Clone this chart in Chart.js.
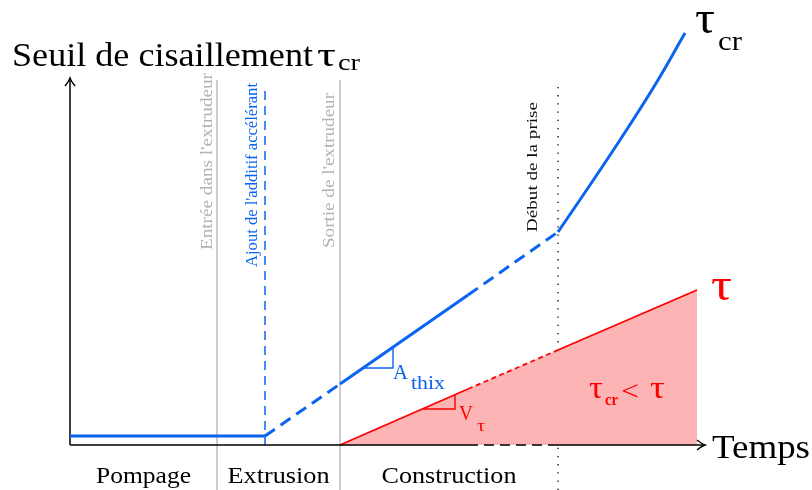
<!DOCTYPE html>
<html>
<head>
<meta charset="utf-8">
<script src="https://cdn.jsdelivr.net/npm/chart.js@4"></script>
<style>
  html, body { margin: 0; padding: 0; background: #fff; }
  canvas { display: block; }
</style>
</head>
<body>
<canvas id="myChart" width="812" height="490"></canvas>
<script>
// arbitrary units: time along x, shear stress along y (0 = axes origin)
const phaseNames = ['Pompage', 'Extrusion', 'Construction'];
const phaseEdges = [0, 14.7, 27, 48.8];

const eventTimes = [14.7, 19.5, 27, 48.8];
const eventLabels = ["Entrée dans l'extrudeur", "Ajout de l'additif accélérant", "Sortie de l'extrudeur", "Début de la prise"];

// τcr : plateau while pumping, linear build-up, then setting
const plateauTime = [0, 19.5];
const plateauValue = [0.9, 0.9];
const buildTime = [19.5, 27, 39.8, 48.8];
const buildValue = [0.9, 6.1, 15.0, 21.3];
const setTime = [48.8, 52, 55, 58.5, 61.5];
const setValue = [21.3, 26.0, 30.5, 36.0, 41.2];

// τ : stress applied by the layers above
const tauTime = [27, 39.8, 48.8, 62.7];
const tauValue = [0, 5.6, 9.5, 15.5];

// slope markers
const athixTime = [29.3, 32.3, 32.3];
const athixValue = [7.7, 7.7, 9.8];
const vtauTime = [35.3, 38.5, 38.5];
const vtauValue = [3.6, 3.6, 5.0];

// axes
const xAxisTime = [0, 39.8, 48.8, 63.5];
const yAxisTop = 36.7;

const BLUE = '#0a64f0';
const RED = '#ff0000';
const GREY = '#bdbdbd';
const FONT = '"Liberation Serif", "DejaVu Serif", serif';

const pts = (xs, ys) => xs.map((x, i) => ({ x: x, y: ys[i] }));
const dashAt = (idx, dash) => ({ borderDash: c => idx.includes(c.p0DataIndex) ? dash : undefined });

function line(data, color, width, extra) {
  return Object.assign({
    data: data, showLine: true, borderColor: color, borderWidth: width,
    pointRadius: 0, fill: false, tension: 0, order: 5
  }, extra || {});
}

const eventStyles = [
  { color: GREY, width: 1.5, dash: [], from: -4.5, to: 36.5 },
  { color: BLUE, width: 1.5, dash: [9, 6], from: 0, to: 36.0 },
  { color: GREY, width: 1.5, dash: [], from: -4.5, to: 36.5 },
  { color: '#222', width: 1.5, dash: [1.3, 6.9], from: -4.5, to: 36.0 }
];

const datasets = [];
eventTimes.forEach((t, i) => {
  const s = eventStyles[i];
  datasets.push(line(pts([t, t], [s.from, s.to]), s.color, s.width, { borderDash: s.dash, order: 9 }));
});
datasets.push(line(pts(tauTime, tauValue), RED, 1.8, {
  fill: 'origin', backgroundColor: '#fcb4b4', order: 6, segment: dashAt([1], [5, 3.5])
}));
datasets.push(line(pts(xAxisTime, xAxisTime.map(() => 0)), '#000', 1.5, { order: 4, segment: dashAt([1], [10, 6]) }));
datasets.push(line(pts([0, 0], [0, yAxisTop]), '#000', 1.5, { order: 4 }));
datasets.push(line(pts(plateauTime, plateauValue), BLUE, 3, { order: 2 }));
datasets.push(line(pts(buildTime, buildValue), BLUE, 3, { order: 2, segment: dashAt([0, 2], [12, 7]) }));
datasets.push(line(pts(setTime, setValue), BLUE, 3, { order: 2, tension: 0.4 }));
datasets.push(line(pts(athixTime, athixValue), BLUE, 1.4, { order: 3 }));
datasets.push(line(pts(vtauTime, vtauValue), RED, 1.4, { order: 3 }));

function txt(ctx, s, x, y, o) {
  ctx.save();
  ctx.font = (o.bold ? 'bold ' : '') + o.size + 'px ' + FONT;
  ctx.fillStyle = o.color || '#000';
  ctx.textBaseline = 'alphabetic';
  ctx.translate(x, y);
  if (o.rot) ctx.rotate(o.rot);
  if (o.width) ctx.scale(o.width / ctx.measureText(s).width, 1);
  ctx.fillText(s, 0, 0);
  ctx.restore();
}

function arrowHead(ctx, x, y, ang) {
  ctx.save();
  ctx.translate(x, y);
  ctx.rotate(ang);
  ctx.strokeStyle = '#000';
  ctx.lineWidth = 1.4;
  ctx.beginPath();
  ctx.moveTo(-8, -5);
  ctx.quadraticCurveTo(-3, -1, 0, 0);
  ctx.quadraticCurveTo(-3, 1, -8, 5);
  ctx.stroke();
  ctx.restore();
}

const labels = {
  id: 'labels',
  afterDraw(chart) {
    const ctx = chart.ctx;
    const sx = chart.scales.x, sy = chart.scales.y;

    arrowHead(ctx, sx.getPixelForValue(xAxisTime[xAxisTime.length - 1]), sy.getPixelForValue(0), 0);
    arrowHead(ctx, sx.getPixelForValue(0), sy.getPixelForValue(yAxisTop), -Math.PI / 2);

    // y title
    txt(ctx, 'Seuil de cisaillement', 12, 66, { size: 33, width: 301 });
    txt(ctx, 'τ', 317, 66, { size: 34, width: 19 });
    txt(ctx, 'cr', 338, 70, { size: 23, width: 22 });
    txt(ctx, 'Temps', 712, 458, { size: 33, width: 98 });

    // curve names
    txt(ctx, 'τ', 695, 33, { size: 46, width: 20 });
    txt(ctx, 'cr', 718, 50, { size: 28, width: 24 });
    txt(ctx, 'τ', 711, 300, { size: 46, width: 21, color: RED });

    // phases
    const pw = [95, 102, 135];
    phaseNames.forEach((n, i) => {
      const c = (sx.getPixelForValue(phaseEdges[i]) + sx.getPixelForValue(phaseEdges[i + 1])) / 2;
      txt(ctx, n, c - pw[i] / 2, 483, { size: 23, width: pw[i] });
    });

    // events (rotated)
    const ev = [
      { dx: -5, y: 250, len: 177, size: 16, color: '#b3b3b3' },
      { dx: -8, y: 267, len: 184, size: 16, color: BLUE },
      { dx: -6, y: 248, len: 155, size: 16, color: '#b3b3b3' },
      { dx: -21, y: 232, len: 130, size: 15, color: '#111' }
    ];
    eventLabels.forEach((s, i) => {
      const e = ev[i];
      txt(ctx, s, sx.getPixelForValue(eventTimes[i]) + e.dx, e.y, { size: e.size, width: e.len, color: e.color, rot: -Math.PI / 2 });
    });

    // slopes
    txt(ctx, 'A', 393, 379, { size: 22, width: 15, color: BLUE });
    txt(ctx, 'thix', 411, 389, { size: 18, width: 34, color: BLUE });
    txt(ctx, 'V', 459, 420, { size: 22, width: 14, color: RED });
    txt(ctx, 'τ', 477, 431, { size: 16, width: 8, color: RED });

    // region
    txt(ctx, 'τ', 589, 398, { size: 32, width: 14, color: RED });
    txt(ctx, 'cr', 605, 405, { size: 16, width: 13, color: RED, bold: true });
    txt(ctx, '<', 621, 400, { size: 28, width: 18, color: RED });
    txt(ctx, 'τ', 650, 398, { size: 32, width: 15, color: RED });
  }
};

new Chart(document.getElementById('myChart'), {
  type: 'scatter',
  data: { datasets: datasets },
  options: {
    responsive: false,
    animation: false,
    layout: { padding: 0 },
    scales: {
      x: { type: 'linear', min: -7, max: 74.2, display: false },
      y: { type: 'linear', min: -4.5, max: 44.5, display: false }
    },
    plugins: { legend: { display: false }, tooltip: { enabled: false } }
  },
  plugins: [labels]
});
</script>
</body>
</html>
